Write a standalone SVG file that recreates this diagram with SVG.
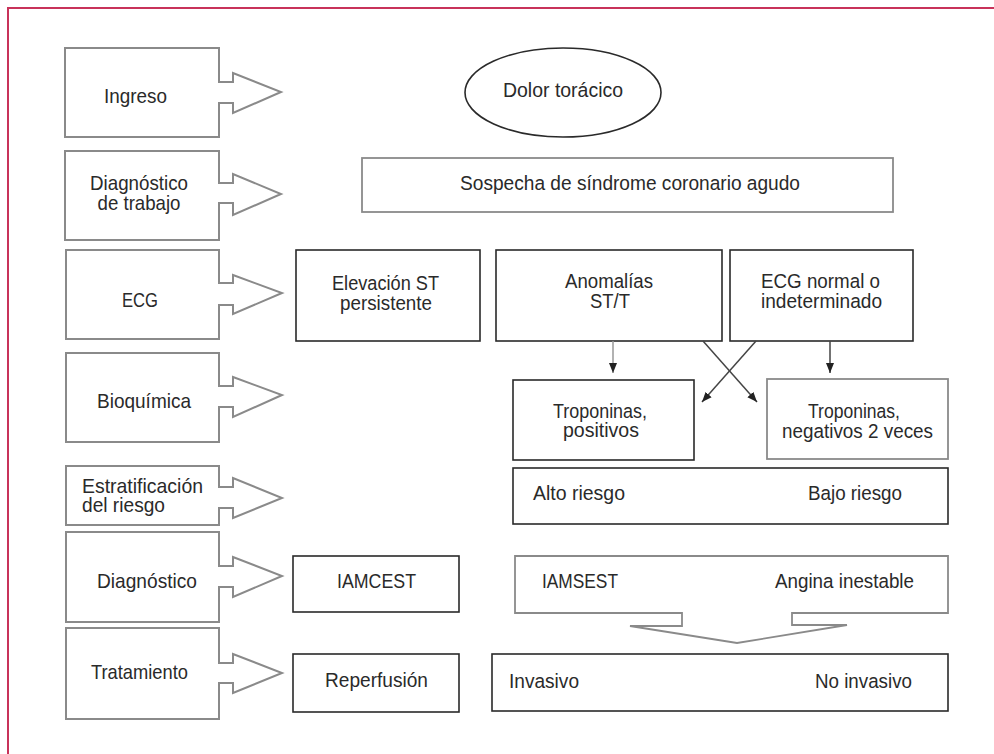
<svg xmlns="http://www.w3.org/2000/svg" width="994" height="754" viewBox="0 0 994 754">
<defs>
<style>
.lbl{fill:none;stroke:#8a8a8a;stroke-width:2;stroke-linejoin:miter}
.box{fill:#fff;stroke:#2a2a2a;stroke-width:1.6}
.gbox{fill:#fff;stroke:#8a8a8a;stroke-width:1.8}
text{font-family:"Liberation Sans",Arial,sans-serif;fill:#2a2a2a;font-size:20.5px}
.t{text-anchor:middle}
.L{font-size:21px}
.con{stroke:#444;stroke-width:1.5;fill:none}
.gcon{stroke:#999;stroke-width:1.5;fill:none}
</style>
<marker id="ah" viewBox="0 0 10 10" refX="10" refY="5" markerWidth="10" markerHeight="10" markerUnits="userSpaceOnUse" orient="auto">
<path d="M0,1 L10,5 L0,9 Z" fill="#222"/>
</marker>
</defs>
<rect width="994" height="754" fill="#fff"/>
<path d="M8,754 V8 H994" fill="none" stroke="#c8325a" stroke-width="2"/>

<g id="ingreso">
<path class="lbl" d="M65,48 H219 V82 H233 V73 L281,92 L233,113 V103 H219 V137 H65 Z"/>
<text class="t L" x="135.5" y="103" textLength="63" lengthAdjust="spacingAndGlyphs">Ingreso</text>
</g>
<g id="diag-trabajo">
<path class="lbl" d="M65,151 H219 V183 H233 V174 L281,194 L233,215 V203 H219 V240 H65 Z"/>
<text class="t L" x="139" y="190" textLength="98" lengthAdjust="spacingAndGlyphs">Diagnóstico</text>
<text class="t L" x="139" y="210" textLength="83" lengthAdjust="spacingAndGlyphs">de trabajo</text>
</g>
<g id="ecg">
<path class="lbl" d="M66,250 H219 V283 H233 V275 L282,293 L233,314 V305 H219 V339 H66 Z"/>
<text class="t L" x="140" y="307" textLength="36" lengthAdjust="spacingAndGlyphs">ECG</text>
</g>
<g id="bioquimica">
<path class="lbl" d="M66,353 H219 V386 H233 V377 L282,395 L233,417 V407 H219 V442 H66 Z"/>
<text class="t L" x="144" y="408" textLength="94" lengthAdjust="spacingAndGlyphs">Bioquímica</text>
</g>
<g id="estratificacion">
<path class="lbl" d="M66,466 H219 V487 H233 V478 L282,498 L233,518 V508 H219 V525 H66 Z"/>
<text class="L" x="82" y="493" textLength="121" lengthAdjust="spacingAndGlyphs">Estratificación</text>
<text class="L" x="82" y="512" textLength="83" lengthAdjust="spacingAndGlyphs">del riesgo</text>
</g>
<g id="diagnostico">
<path class="lbl" d="M66,532 H219 V566 H233 V557 L282,576 L233,597 V587 H219 V622 H66 Z"/>
<text class="t L" x="147" y="588" textLength="100" lengthAdjust="spacingAndGlyphs">Diagnóstico</text>
</g>
<g id="tratamiento">
<path class="lbl" d="M66,628 H219 V663 H233 V654 L282,673 L233,693 V683 H219 V719 H66 Z"/>
<text class="t L" x="139.5" y="679" textLength="97" lengthAdjust="spacingAndGlyphs">Tratamiento</text>
</g>

<g id="dolor">
<ellipse class="box" cx="563" cy="92.5" rx="98" ry="44.5"/>
<text class="t" x="563" y="97" textLength="120" lengthAdjust="spacingAndGlyphs">Dolor torácico</text>
</g>
<g id="sospecha">
<rect class="gbox" x="362" y="158" width="531" height="54"/>
<text class="t" x="630" y="190" textLength="340" lengthAdjust="spacingAndGlyphs">Sospecha de síndrome coronario agudo</text>
</g>
<g id="elevacion">
<rect class="box" x="296" y="250" width="184" height="91"/>
<text class="t" x="385.5" y="290" textLength="107" lengthAdjust="spacingAndGlyphs">Elevación ST</text>
<text class="t" x="386" y="310" textLength="92" lengthAdjust="spacingAndGlyphs">persistente</text>
</g>
<g id="anomalias">
<rect class="box" x="496" y="250" width="226" height="91"/>
<text class="t" x="609" y="288" textLength="88" lengthAdjust="spacingAndGlyphs">Anomalías</text>
<text class="t" x="610" y="308" textLength="40" lengthAdjust="spacingAndGlyphs">ST/T</text>
</g>
<g id="ecg-normal">
<rect class="box" x="730" y="250" width="183" height="91"/>
<text class="t" x="820.5" y="288" textLength="119" lengthAdjust="spacingAndGlyphs">ECG normal o</text>
<text class="t" x="821.5" y="308" textLength="121" lengthAdjust="spacingAndGlyphs">indeterminado</text>
</g>
<g id="trop-pos">
<rect class="box" x="513" y="380" width="181" height="80"/>
<text class="t" x="600" y="418" textLength="94" lengthAdjust="spacingAndGlyphs">Troponinas,</text>
<text class="t" x="601" y="437" textLength="76" lengthAdjust="spacingAndGlyphs">positivos</text>
</g>
<g id="trop-neg">
<rect class="gbox" x="767" y="379" width="181" height="80"/>
<text class="t" x="854" y="418" textLength="92" lengthAdjust="spacingAndGlyphs">Troponinas,</text>
<text class="t" x="857.5" y="438" textLength="151" lengthAdjust="spacingAndGlyphs">negativos 2 veces</text>
</g>
<g id="riesgo">
<rect class="box" x="513" y="468" width="435" height="56"/>
<text x="533" y="500" textLength="92" lengthAdjust="spacingAndGlyphs">Alto riesgo</text>
<text x="808" y="500" textLength="94" lengthAdjust="spacingAndGlyphs">Bajo riesgo</text>
</g>
<g id="iamcest">
<rect class="box" x="293" y="556" width="166" height="56"/>
<text class="t" x="376.5" y="588" textLength="79" lengthAdjust="spacingAndGlyphs">IAMCEST</text>
</g>
<g id="iamsest">
<path class="gbox" d="M515,556 H948 V613 H792 V625 H847 L737,643 L630,626 H682 V613 H515 Z"/>
<text x="542" y="588" textLength="76" lengthAdjust="spacingAndGlyphs">IAMSEST</text>
<text x="775" y="588" textLength="139" lengthAdjust="spacingAndGlyphs">Angina inestable</text>
</g>
<g id="reperfusion">
<rect class="box" x="293" y="654" width="166" height="58"/>
<text class="t" x="376.5" y="687" textLength="103" lengthAdjust="spacingAndGlyphs">Reperfusión</text>
</g>
<g id="invasivo">
<rect class="box" x="492" y="654" width="456" height="57"/>
<text x="509" y="688" textLength="70" lengthAdjust="spacingAndGlyphs">Invasivo</text>
<text x="815" y="688" textLength="97" lengthAdjust="spacingAndGlyphs">No invasivo</text>
</g>

<g id="connectors">
<line class="gcon" x1="613" y1="341" x2="613" y2="373" marker-end="url(#ah)"/>
<line class="con" x1="830" y1="341" x2="830" y2="373" marker-end="url(#ah)"/>
<line class="con" x1="703" y1="341" x2="757" y2="402" marker-end="url(#ah)"/>
<line class="con" x1="756" y1="341" x2="702" y2="402" marker-end="url(#ah)"/>
</g>
</svg>
